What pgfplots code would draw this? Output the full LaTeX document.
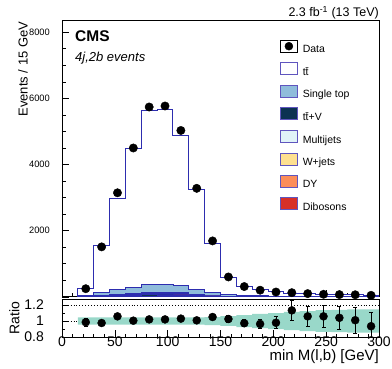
\documentclass[border=0pt]{standalone}
\usepackage{fontspec}
\setmainfont{Liberation Sans}
\usepackage{pgfplots}
\usepackage{pgfplotstable}
\pgfplotsset{compat=1.18}

\definecolor{lcol}{RGB}{45,45,175}
\definecolor{lbox}{RGB}{95,85,190}
\definecolor{cST}{RGB}{143,188,219}
\definecolor{cTTV}{RGB}{12,50,82}
\definecolor{cMJ}{RGB}{224,243,248}
\definecolor{cWJ}{RGB}{254,224,144}
\definecolor{cDY}{RGB}{252,141,89}
\definecolor{cDIB}{RGB}{215,48,39}
\definecolor{cband}{RGB}{153,216,201}

\pgfplotsset{boxleg/.style={legend image code/.code={\draw[##1] (0pt,-2.5pt) rectangle (17pt,9.5pt);}}}

% histogram: left bin edges, cumulative stack (bottom-up: ttV, Dib, DY, W+jets, Multijets, Single top, ttbar)
\pgfplotstableread{
x    tot   st    mj    wj    dy    dib   ttv
15   249   30.4  11.4  8.4   6.4   5.4   5
30   1549  137   52    38    29    24    22
45   2973  217   83    60    46    37    34
60   4482  293   112   81    62    50    46
75   5627  380   145   105   80    65    60
90   5657  369   141   102   78    63    58
105  4883  334   127   92    70    57    53
120  3254  217   83    60    46    37    34
135  1610  126   48    35    27    22    20
150  585   65    25    18    14    11    10
165  319   38.5  14.5  10.5  8     6.5   6
180  208   28.9  10.9  7.9   5.9   4.9   4.5
195  148   21.1  8.1   6.1   4.6   3.6   3.3
210  110   17.6  6.6   4.6   3.6   2.9   2.7
225  92    13.3  5.3   3.8   2.8   2.3   2.1
240  72    10.9  3.9   2.9   2.2   1.8   1.7
255  64    9.5   3.5   2.5   1.9   1.5   1.4
270  61    8.1   3.1   2.1   1.6   1.3   1.2
285  48    6.8   2.8   1.8   1.4   1.1   1.0
300  48    6.8   2.8   1.8   1.4   1.1   1.0
}\histtab

\pgfplotstableread{
x      d     r      e
22.5   245   0.985  0.05
37.5   1510  0.975  0.025
52.5   3145  1.058  0.018
67.5   4500  1.004  0.015
82.5   5740  1.020  0.013
97.5   5770  1.020  0.013
112.5  5030  1.030  0.014
127.5  3280  1.008  0.017
142.5  1690  1.050  0.025
157.5  600   1.025  0.04
172.5  310   0.972  0.045
187.5  200   0.963  0.055
202.5  145   0.978  0.075
217.5  125   1.133  0.12
232.5  97    1.058  0.125
247.5  76    1.058  0.14
262.5  67    1.040  0.145
277.5  62    1.010  0.165
292.5  45    0.935  0.17
}\datatab

\begin{document}
\begin{tikzpicture}
\path[use as bounding box] (0,0) rectangle (392pt,-368pt);

\begin{axis}[
  at={(62pt,-296.8pt)}, anchor=south west,
  scale only axis, width=317pt, height=276.8pt,
  xmin=0, xmax=300, ymin=0, ymax=8370,
  xtick={0,50,...,300}, xticklabels={}, minor x tick num=4,
  ytick={0,2000,4000,6000,8000}, yticklabels={{},2000,4000,6000,8000},
  minor y tick num=3,
  tick pos=left, tick align=inside,
  major tick length=7pt, minor tick length=3.5pt,
  every tick/.style={black, line width=0.6pt},
  axis line style={black, line width=0.8pt},
  yticklabel style={font=\fontsize{9.3}{11}\selectfont, inner sep=0pt, anchor=east, xshift=-12pt},
  ylabel={Events / 15 GeV},
  ylabel style={at={(axis description cs:-0.1085,0.9939)}, anchor=base east, inner sep=0pt, font=\fontsize{13}{16}\selectfont},
  legend style={at={(0.6877,0.9278)}, anchor=north west, draw=none, fill=none,
    inner sep=0pt, outer sep=0pt, row sep=8pt, column sep=5pt,
    font=\fontsize{10.5}{12}\selectfont, nodes={inner sep=0pt}},
  legend cell align=left,
]
\addlegendimage{legend image code/.code={\path (0pt,-2.5pt) rectangle (17pt,9.5pt); \fill[black] (8.5pt,3.5pt) circle (4pt);}}
\addlegendentry{Data}
\addlegendimage{boxleg, draw=lbox, line width=0.8pt, fill=white}
\addlegendentry{t\={t}}
\addlegendimage{boxleg, draw=lbox, line width=0.8pt, fill=cST}
\addlegendentry{Single top}
\addlegendimage{boxleg, draw=lbox, line width=0.8pt, fill=cTTV}
\addlegendentry{t\={t}+V}
\addlegendimage{boxleg, draw=lbox, line width=0.8pt, fill=cMJ}
\addlegendentry{Multijets}
\addlegendimage{boxleg, draw=lbox, line width=0.8pt, fill=cWJ}
\addlegendentry{W+jets}
\addlegendimage{boxleg, draw=lbox, line width=0.8pt, fill=cDY}
\addlegendentry{DY}
\addlegendimage{boxleg, draw=lbox, line width=0.8pt, fill=cDIB}
\addlegendentry{Dibosons}

\addplot[const plot mark left, draw=lcol, line width=0.9pt, fill=white, forget plot] table[x=x,y=tot]{\histtab} \closedcycle;
\addplot[const plot mark left, draw=lcol, line width=0.7pt, fill=cST, forget plot] table[x=x,y=st]{\histtab} \closedcycle;
\addplot[const plot mark left, draw=lcol, line width=0.7pt, fill=cMJ, forget plot] table[x=x,y=mj]{\histtab} \closedcycle;
\addplot[const plot mark left, draw=lcol, line width=0.7pt, fill=cWJ, forget plot] table[x=x,y=wj]{\histtab} \closedcycle;
\addplot[const plot mark left, draw=lcol, line width=0.7pt, fill=cDY, forget plot] table[x=x,y=dy]{\histtab} \closedcycle;
\addplot[const plot mark left, draw=lcol, line width=0.7pt, fill=cDIB, forget plot] table[x=x,y=dib]{\histtab} \closedcycle;
\addplot[const plot mark left, draw=lcol, line width=0.7pt, fill=cTTV, forget plot] table[x=x,y=ttv]{\histtab} \closedcycle;

\addplot[only marks, mark=*, mark size=4.2pt, black, forget plot] table[x=x,y=d]{\datatab};
\end{axis}

\begin{axis}[
  at={(62pt,-337pt)}, anchor=south west,
  scale only axis, width=317pt, height=38pt,
  xmin=0, xmax=300, ymin=0.8, ymax=1.275,
  xtick={0,50,...,300}, xticklabels={0,50,100,150,200,250,300}, minor x tick num=4,
  ytick={0.8,1,1.2}, yticklabels={0.8,1,1.2}, minor y tick num=1,
  tick pos=left, tick align=inside,
  major tick length=7pt, minor tick length=3.5pt,
  every tick/.style={black, line width=0.6pt},
  axis line style={black, line width=0.8pt},
  yticklabel style={font=\fontsize{14}{16}\selectfont, inner sep=0pt, anchor=east, xshift=-18pt},
  xticklabel style={font=\fontsize{14}{16}\selectfont, inner sep=0pt, anchor=north, yshift=0pt},
  ylabel={Ratio},
  ylabel style={at={(axis description cs:-0.1347,0.5)}, anchor=base, inner sep=0pt, font=\fontsize{14}{16}\selectfont},
  xlabel={min M(l,b) [GeV]},
  xlabel style={at={(axis description cs:1,0)}, anchor=base east, yshift=-23.4pt, inner sep=0pt, font=\fontsize{15}{18}\selectfont},
]
\addplot[black, dotted, line width=0.9pt] coordinates {(0,1.2) (300,1.2)};
\addplot[black, dotted, line width=0.9pt] coordinates {(0,1) (15,1)};
\addplot[fill=cband, draw=none] coordinates {
 (15,1.044) (135,1.044) (135,1.05) (150,1.05) (150,1.06) (165,1.06) (165,1.075) (180,1.075)
 (180,1.09) (195,1.09) (195,1.10) (210,1.10) (210,1.115) (225,1.115) (225,1.125) (240,1.125)
 (240,1.135) (255,1.135) (255,1.14) (270,1.14) (270,1.145) (300,1.145)
 (300,0.855) (270,0.855) (270,0.86) (255,0.86) (255,0.865) (240,0.865) (240,0.875) (225,0.875)
 (225,0.885) (210,0.885) (210,0.9) (195,0.9) (195,0.91) (180,0.91) (180,0.925) (165,0.925)
 (165,0.94) (150,0.94) (150,0.95) (135,0.95) (135,0.956) (15,0.956)} -- cycle;
\addplot[only marks, mark=*, mark size=4pt, black,
  error bars/.cd, y dir=both, y explicit,
  error bar style={line width=0.9pt, black},
  error mark options={rotate=90, mark size=2pt, line width=0.9pt, black}]
  table[x=x, y=r, y error=e]{\datatab};
\end{axis}

\node[anchor=base west, inner sep=0pt, font=\fontsize{15.5}{18}\selectfont\bfseries] at (75pt,-41.5pt) {CMS};
\node[anchor=base west, inner sep=0pt, font=\fontsize{13}{15}\selectfont\itshape] at (75pt,-61.5pt) {4j,2b events};
\node[anchor=base east, inner sep=0pt, font=\fontsize{12.5}{15}\selectfont] at (379pt,-16.5pt) {2.3 fb\textsuperscript{-1} (13 TeV)};
\end{tikzpicture}
\end{document}
